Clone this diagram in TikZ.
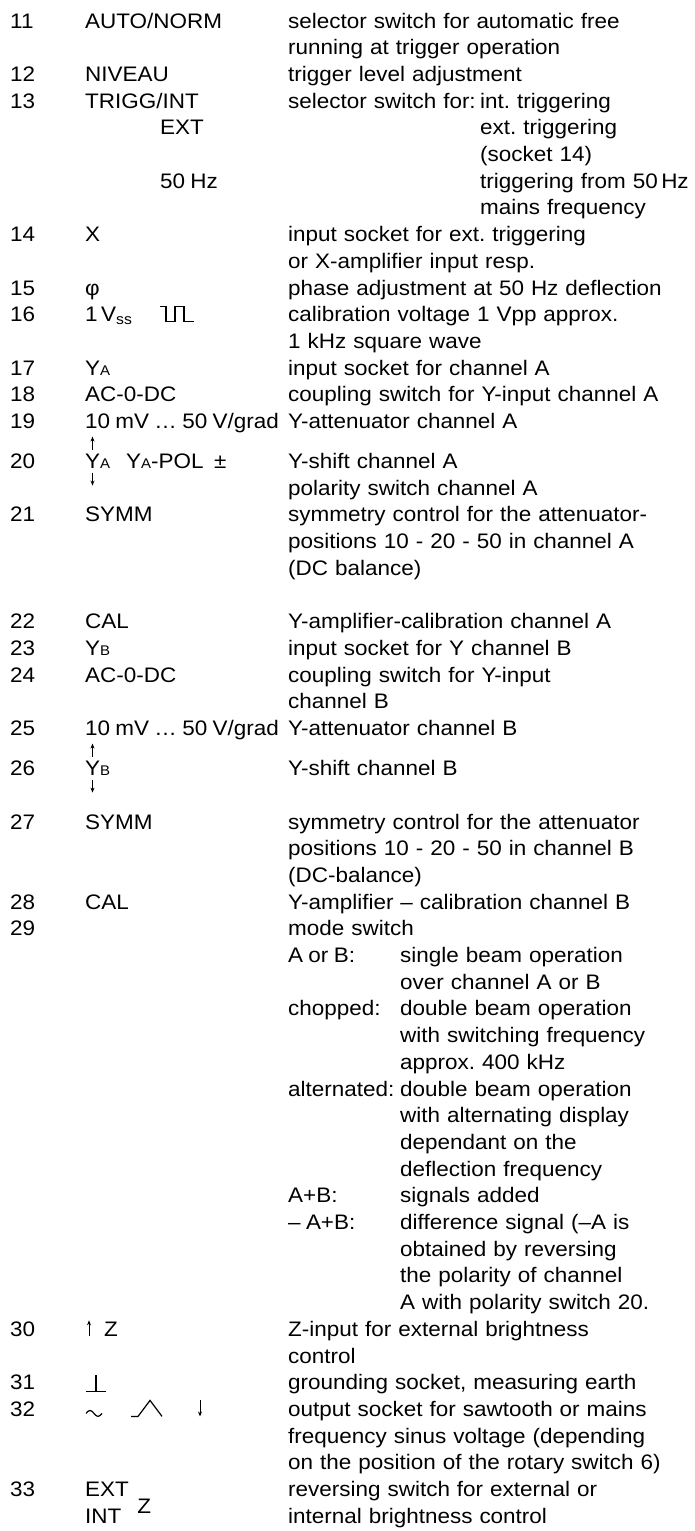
\documentclass[tikz,border=0pt]{standalone}
\usepackage{fontspec}
\setmainfont[FakeStretch=1.07,WordSpace=0.85]{Liberation Sans}
\usetikzlibrary{arrows.meta,calc}
\newcommand\smallcap[1]{{\fontsize{14}{14}\selectfont #1}}
\frenchspacing

\begin{document}
\begin{tikzpicture}[x=1pt,y=-26.7pt,
  every node/.style={inner sep=0pt,anchor=base west,font=\fontsize{21}{26.7}\selectfont},
  txt/.style={text width=400pt,align=left},
  sym/.style={line width=1.2pt},
  arr/.style={line width=1pt,-{Stealth[length=5pt,width=4pt]}}]

\useasboundingbox (0,-1.0487) rectangle (694,56.2921);

\node (n11) at (10,0) {11};
\node (k11) at (85,0) {AUTO/NORM};
\node[txt] (d11) at (288,0) {selector switch for automatic free\\running at trigger operation};

\node (n12) at (10,2) {12};
\node (k12) at (85,2) {NIVEAU};
\node[txt] (d12) at (288,2) {trigger level adjustment};

\node (n13) at (10,3) {13};
\node (k13) at (85,3) {TRIGG/INT};
\node (k13e) at (160,4) {EXT};
\node (k13f) at (160,6) {50 Hz};
\node[txt] (d13) at (288,3) {selector switch for:};
\node[txt,text width=212pt] (s13) at (480,3) {int. triggering\\ext. triggering\\(socket 14)\\triggering from 50\,Hz\\mains frequency};

\node (n14) at (10,8) {14};
\node (k14) at (85,8) {X};
\node[txt] (d14) at (288,8) {input socket for ext. triggering\\or X-amplifier input resp.};

\node (n15) at (10,10) {15};
\node (k15) at (85,10) {φ};
\node[txt] (d15) at (288,10) {phase adjustment at 50 Hz deflection};

\node (n16) at (10,11) {16};
\node (k16) at (85,11) {1\,V\textsubscript{ss}};
\coordinate (p16) at (160,11);
\draw[sym] (p16) ++(0pt,15pt) -- ++(6pt,0pt) -- ++(0pt,-15pt) -- ++(9pt,0pt) -- ++(0pt,15pt) -- ++(9pt,0pt) -- ++(0pt,-15pt) -- ++(10pt,0pt);
\node[txt] (d16) at (288,11) {calibration voltage 1 Vpp approx.\\1 kHz square wave};

\node (n17) at (10,13) {17};
\node (k17) at (85,13) {Y\smallcap{A}};
\node[txt] (d17) at (288,13) {input socket for channel A};

\node (n18) at (10,14) {18};
\node (k18) at (85,14) {AC-0-DC};
\node[txt] (d18) at (288,14) {coupling switch for Y-input channel A};

\node (n19) at (10,15) {19};
\node (k19) at (85,15) {10 mV \ldots\ 50 V/grad};
\node[txt] (d19) at (288,15) {Y-attenuator channel A};

\node (n20) at (10,16.5) {20};
\node (k20) at (85,16.5) {Y\smallcap{A}};
\node (k20p) at (126,16.5) {Y\smallcap{A}-POL \ ±};
\draw[arr] (k20.base west) ++(7.5pt,19pt) -- ++(0pt,13pt);
\draw[arr] (k20.base west) ++(7.5pt,-4pt) -- ++(0pt,-13pt);
\node[txt] (d20) at (288,16.5) {Y-shift channel A\\polarity switch channel A};

\node (n21) at (10,18.5) {21};
\node (k21) at (85,18.5) {SYMM};
\node[txt] (d21) at (288,18.5) {symmetry control for the attenuator-\\positions 10 - 20 - 50 in channel A\\(DC balance)};

\node (n22) at (10,22.5) {22};
\node (k22) at (85,22.5) {CAL};
\node[txt] (d22) at (288,22.5) {Y-amplifier-calibration channel A};

\node (n23) at (10,23.5) {23};
\node (k23) at (85,23.5) {Y\smallcap{B}};
\node[txt] (d23) at (288,23.5) {input socket for Y channel B};

\node (n24) at (10,24.5) {24};
\node (k24) at (85,24.5) {AC-0-DC};
\node[txt] (d24) at (288,24.5) {coupling switch for Y-input\\channel B};

\node (n25) at (10,26.5) {25};
\node (k25) at (85,26.5) {10 mV \ldots\ 50 V/grad};
\node[txt] (d25) at (288,26.5) {Y-attenuator channel B};

\node (n26) at (10,28) {26};
\node (k26) at (85,28) {Y\smallcap{B}};
\draw[arr] (k26.base west) ++(7.5pt,19pt) -- ++(0pt,13pt);
\draw[arr] (k26.base west) ++(7.5pt,-4pt) -- ++(0pt,-13pt);
\node[txt] (d26) at (288,28) {Y-shift channel B};

\node (n27) at (10,30) {27};
\node (k27) at (85,30) {SYMM};
\node[txt] (d27) at (288,30) {symmetry control for the attenuator\\positions 10 - 20 - 50 in channel B\\(DC-balance)};

\node (n28) at (10,33) {28};
\node (k28) at (85,33) {CAL};
\node[txt] (d28) at (288,33) {Y-amplifier -- calibration channel B};

\node (n29) at (10,34) {29};
\node[txt] (d29) at (288,34) {mode switch};
\node (m29a) at (288,35) {A or B:};
\node (m29b) at (288,37) {chopped:};
\node (m29c) at (288,40) {alternated:};
\node (m29d) at (288,44) {A+B:};
\node (m29e) at (288,45) {-- A+B:};
\node[txt,text width=290pt] (t29) at (400,35) {single beam operation\\over channel A or B\\double beam operation\\with switching frequency\\approx. 400 kHz\\double beam operation\\with alternating display\\dependant on the\\deflection frequency\\signals added\\difference signal (--A is\\obtained by reversing\\the polarity of channel\\A with polarity switch 20.};

\node (n30) at (10,49) {30};
\node (k30) at (104,49) {Z};
\draw[arr] (k30.base west) ++(-15pt,0pt) -- ++(0pt,16pt);
\node[txt] (d30) at (288,49) {Z-input for external brightness\\control};

\node (n31) at (10,51) {31};
\coordinate (g31) at (85,51);
\draw[sym] (g31) ++(1pt,-1.5pt) -- ++(20pt,0pt);
\draw[sym] (g31) ++(11pt,-1.5pt) -- ++(0pt,16pt);
\node[txt] (d31) at (288,51) {grounding socket, measuring earth};

\node (n32) at (10,52) {32};
\coordinate (w32) at (86,52);
\coordinate (s32) at (131,52);
\coordinate (a32) at (200,52);
\draw[sym] (w32) ++(0pt,3pt) sin ++(4pt,3pt) cos ++(4pt,-3pt) sin ++(4pt,-3pt) cos ++(4pt,3pt);
\draw[sym] (s32) -- ++(7pt,0pt) -- ++(12pt,16pt) -- ++(12pt,-16pt);
\draw[arr] (a32) ++(0pt,16pt) -- ++(0pt,-16pt);
\node[txt] (d32) at (288,52) {output socket for sawtooth or mains\\frequency sinus voltage (depending\\on the position of the rotary switch 6)};

\node (n33) at (10,55) {33};
\node (k33e) at (85,55) {EXT};
\node (k33i) at (85,56) {INT};
\node (k33z) at ($(k33e.base east |- k33i.base)+(8pt,10pt)$) {Z};
\node[txt] (d33) at (288,55) {reversing switch for external or\\internal brightness control};

\end{tikzpicture}
\end{document}
